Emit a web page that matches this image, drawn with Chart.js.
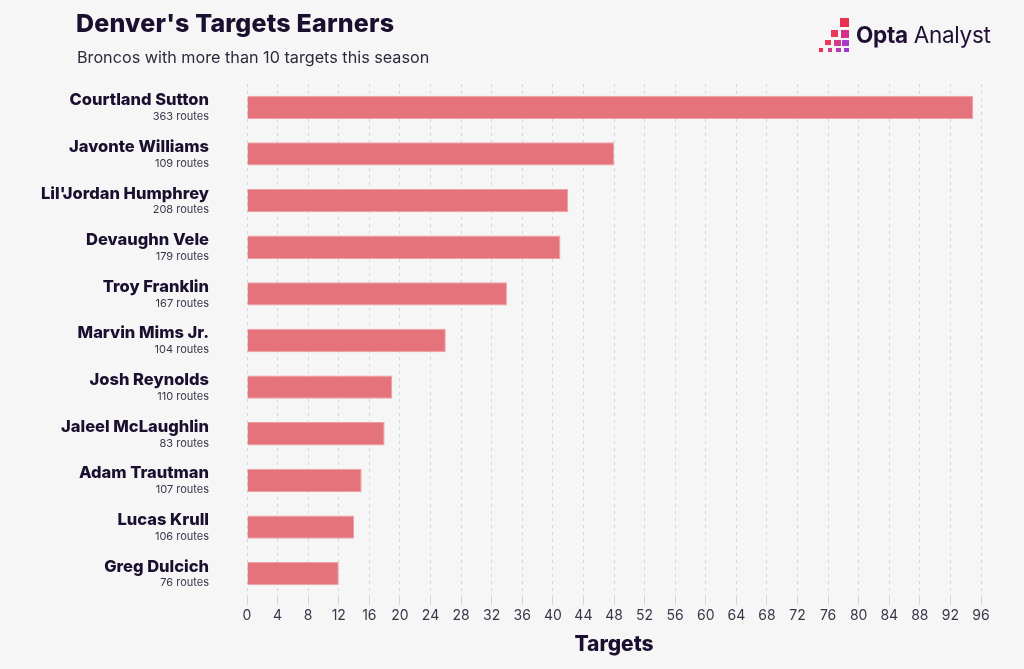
<!DOCTYPE html>
<html><head><meta charset="utf-8">
<script src="https://cdn.jsdelivr.net/npm/chart.js@4.4.1/dist/chart.umd.min.js"></script>
<style>
html,body{margin:0;padding:0;background:#f6f6f6;}
#wrap{position:relative;width:1024px;height:669px;overflow:hidden;font-family:Inter,"Noto Sans",sans-serif;}
#title{position:absolute;left:76px;top:8px;font-size:25px;font-weight:800;color:#1a0f2e;letter-spacing:0.2px;}
#sub{position:absolute;left:77px;top:47px;font-size:16.2px;color:#2e2a3c;}
#logo{position:absolute;left:814px;top:16px;width:200px;height:40px;}
#logo .t{position:absolute;left:42px;top:5px;font-size:22.5px;color:#1f1033;white-space:nowrap;letter-spacing:-0.3px;}
canvas{position:absolute;left:0;top:0;}
</style></head>
<body><div id="wrap">
<canvas id="c" width="1024" height="669"></canvas>
<div id="title">Denver's Targets Earners</div>
<div id="sub">Broncos with more than 10 targets this season</div>
<div id="logo">
<svg width="40" height="40" style="position:absolute;left:0;top:0">
<rect x="26" y="2" width="9" height="9" fill="#e8304f"/>
<rect x="17" y="14" width="7" height="7" fill="#e83a55"/>
<rect x="27" y="14" width="8" height="8" fill="#d8308a"/>
<rect x="11" y="24" width="6" height="5" fill="#e83a50"/>
<rect x="20" y="24" width="7" height="6" fill="#d43a8a"/>
<rect x="28" y="24" width="7" height="6" fill="#a83ac8"/>
<rect x="5" y="32" width="4" height="4" fill="#e8304f"/>
<rect x="14" y="32" width="4" height="4" fill="#d43a90"/>
<rect x="22" y="32" width="5" height="4" fill="#b43ab8"/>
<rect x="30" y="32" width="5" height="4" fill="#9a38d0"/>
</svg>
<div class="t"><b>Opta</b> Analyst</div>
</div>
</div>
<script>
const players = ["Courtland Sutton","Javonte Williams","Lil'Jordan Humphrey","Devaughn Vele","Troy Franklin","Marvin Mims Jr.","Josh Reynolds","Jaleel McLaughlin","Adam Trautman","Lucas Krull","Greg Dulcich"];
const routes = [363,109,208,179,167,104,110,83,107,106,76];
const targets = [95,48,42,41,34,26,19,18,15,14,12];
const xMin = 0, xMax = 96, xStep = 4;
const axisTitle = "Targets";

const labelPlugin = {
  id:'twoLineLabels',
  afterDraw(chart){
    const ctx = chart.ctx, y = chart.scales.y;
    ctx.save();
    ctx.textAlign='right';
    players.forEach((p,i)=>{
      const py = y.getPixelForValue(i);
      ctx.font = '800 16.5px Inter, "Noto Sans", sans-serif';
      ctx.fillStyle = '#1a0f2e';
      ctx.textBaseline='middle';
      ctx.fillText(p, 209, py-7);
      ctx.font = '400 11px Inter, "Noto Sans", sans-serif';
      ctx.fillStyle = '#3a3548';
      ctx.fillText(routes[i]+' routes', 209, py+9.5);
    });
    ctx.restore();
  }
};

new Chart(document.getElementById('c'),{
  type:'bar',
  data:{labels:players,datasets:[{data:targets,backgroundColor:'rgba(228,108,116,0.95)',borderColor:'rgba(240,160,165,1)',borderWidth:1,borderSkipped:'left',categoryPercentage:0.5,barPercentage:1}]},
  options:{
    indexAxis:'y',responsive:false,animation:false,
    layout:{padding:{left:239,right:43,top:84,bottom:12}},
    plugins:{legend:{display:false},tooltip:{enabled:false}},
    scales:{
      x:{min:xMin,max:xMax,
        ticks:{stepSize:xStep,color:'#3a3548',font:{family:'Inter, "Noto Sans", sans-serif',size:14},padding:2},
        grid:{color:'#d6d6d6',tickLength:8,drawTicks:true,tickColor:'#d6d6d6'},
        border:{display:false,dash:[3,4]},
        title:{display:true,text:axisTitle,color:'#1a0f2e',font:{family:'Inter, "Noto Sans", sans-serif',size:21,weight:'800'},padding:{top:6,bottom:0}}
      },
      y:{ticks:{display:false},grid:{display:false},border:{display:false}}
    }
  },
  plugins:[labelPlugin]
});
</script>
</body></html>
